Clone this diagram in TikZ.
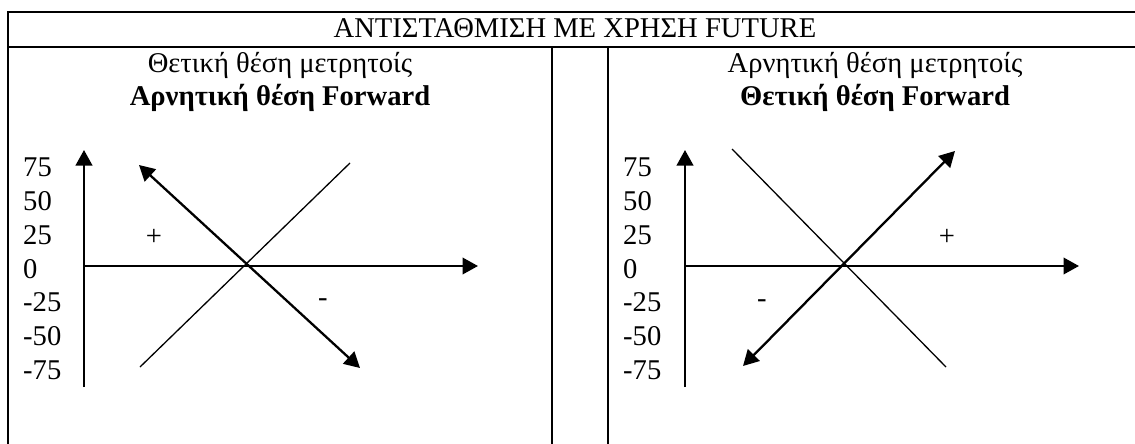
\documentclass[tikz,border=0pt]{standalone}
\usepackage{fontspec}
\setmainfont{Liberation Serif}
\usepackage{tikz}
\usetikzlibrary{arrows.meta,positioning}
\tikzset{
  rule/.style={line width=1.3pt},
  txt/.style={font=\fontsize{28.6}{33.8}\selectfont,inner sep=0pt,anchor=base},
  tick/.style={font=\fontsize{28.6}{33.8}\selectfont,inner sep=0pt,anchor=base west},
  sign/.style={font=\fontsize{28.6}{33.8}\selectfont,inner sep=0pt},
  % axes and hedged position: thick with filled heads, the other line thin
  axis/.style={-{Triangle[length=15.5pt,width=16.5pt]},line width=2.3pt},
  hedge/.style={{Triangle[length=15.5pt,width=16.5pt]}-{Triangle[length=15.5pt,width=16.5pt]},line width=2.3pt},
  spot/.style={line width=1.3pt}
}
\begin{document}
\begin{tikzpicture}[x=1pt,y=-1pt]
  \useasboundingbox (0,0) rectangle (1135,444);
  % table rules
  \draw[rule] (8,444) -- (8,12) -- (1135,12);
  \draw[rule] (8,47) -- (1135,47);
  \draw[rule] (552,47) -- (552,444);
  \draw[rule] (608,47) -- (608,444);
  \node[txt] (title) at (575,38) {ΑΝΤΙΣΤΑΘΜΙΣΗ ΜΕ ΧΡΗΣΗ FUTURE};
  % left panel
  \node[txt] (lspot) at (280,73) {Θετική θέση μετρητοίς};
  \node[txt] (lfwd) at (280,106) {\bfseries Αρνητική θέση Forward};
  \foreach \v [count=\i from 0] in {75,50,25,0,-25,-50,-75}
    \node[tick] (lt\i) at (23,176.7+33.8*\i) {\v};
  \coordinate (lo) at (84,266);
  \coordinate (ly) at (84,150);
  \coordinate (ly0) at (84,387);
  \coordinate (lx) at (478,266);
  \draw[axis] (ly0) -- (ly);
  \draw[axis] (lo) -- (lx);
  \coordinate (la) at (139,165);
  \coordinate (lb) at (360,368);
  \coordinate (lc) at (140,367);
  \coordinate (ld) at (350,163);
  \draw[spot] (lc) -- (ld);
  \draw[hedge] (la) -- (lb);
  \node[sign] (lplus) at (154,237) {+};
  \node[sign] (lminus) at (323,303) {-};
  % right panel
  \node[txt] (rspot) at (875,73) {Αρνητική θέση μετρητοίς};
  \node[txt] (rfwd) at (875,106) {\bfseries Θετική θέση Forward};
  \foreach \v [count=\i from 0] in {75,50,25,0,-25,-50,-75}
    \node[tick] (rt\i) at (623,176.7+33.8*\i) {\v};
  \coordinate (ro) at (685,266);
  \coordinate (ry) at (685,150);
  \coordinate (ry0) at (685,387);
  \coordinate (rx) at (1079,266);
  \draw[axis] (ry0) -- (ry);
  \draw[axis] (ro) -- (rx);
  \coordinate (ra) at (732,149);
  \coordinate (rb) at (946,367);
  \coordinate (rc) at (743,366);
  \coordinate (rd) at (955,151);
  \draw[spot] (ra) -- (rb);
  \draw[hedge] (rc) -- (rd);
  \node[sign] (rplus) at (947,237) {+};
  \node[sign] (rminus) at (762,304) {-};
\end{tikzpicture}
\end{document}
